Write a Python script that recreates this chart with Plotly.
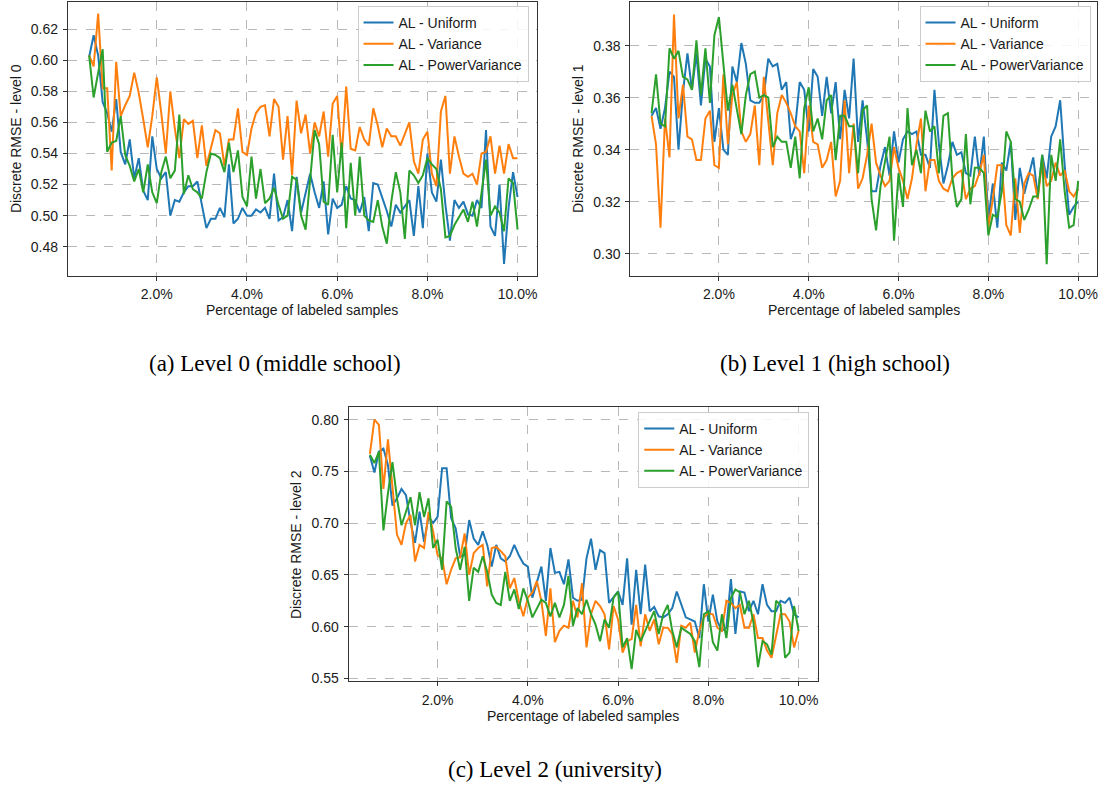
import plotly.graph_objects as go

W, H = 1104, 789

# Percentage of labeled samples (x categories)
pct = [round(0.5 + 0.1 * i, 1) for i in range(96)]

# ---- Level 0 (middle school) ----
a_uniform = [0.602, 0.616, 0.603, 0.573, 0.566, 0.554, 0.575, 0.541, 0.533, 0.549,
             0.524, 0.537, 0.516, 0.510, 0.551, 0.530, 0.524, 0.528, 0.500, 0.510,
             0.509, 0.515, 0.519, 0.519, 0.522, 0.507, 0.492, 0.498, 0.498, 0.505,
             0.499, 0.533, 0.495, 0.498, 0.505, 0.500, 0.500, 0.504, 0.502, 0.505,
             0.498, 0.527, 0.497, 0.499, 0.510, 0.490, 0.525, 0.502, 0.515, 0.527,
             0.515, 0.505, 0.522, 0.488, 0.511, 0.505, 0.507, 0.519, 0.511, 0.510,
             0.502, 0.512, 0.490, 0.521, 0.520, 0.512, 0.503, 0.493, 0.507, 0.502,
             0.506, 0.510, 0.487, 0.519, 0.492, 0.540, 0.515, 0.509, 0.536, 0.507,
             0.484, 0.510, 0.505, 0.509, 0.501, 0.500, 0.510, 0.505, 0.555, 0.493,
             0.487, 0.520, 0.469, 0.505, 0.528, 0.512]
a_variance = [0.603, 0.596, 0.630, 0.582, 0.582, 0.529, 0.599, 0.564, 0.571, 0.577,
              0.592, 0.579, 0.562, 0.544, 0.564, 0.589, 0.566, 0.540, 0.580, 0.556,
              0.537, 0.562, 0.559, 0.561, 0.537, 0.558, 0.532, 0.543, 0.555, 0.553,
              0.532, 0.549, 0.549, 0.569, 0.541, 0.539, 0.556, 0.566, 0.570, 0.571,
              0.551, 0.575, 0.570, 0.536, 0.564, 0.526, 0.574, 0.553, 0.565, 0.540,
              0.560, 0.551, 0.567, 0.538, 0.572, 0.577, 0.538, 0.583, 0.543, 0.542,
              0.557, 0.549, 0.545, 0.569, 0.558, 0.544, 0.556, 0.551, 0.551, 0.545,
              0.552, 0.560, 0.535, 0.527, 0.549, 0.554, 0.527, 0.519, 0.567, 0.577,
              0.527, 0.551, 0.538, 0.527, 0.525, 0.527, 0.520, 0.540, 0.541, 0.551,
              0.527, 0.545, 0.527, 0.546, 0.537, 0.537]
a_power = [0.603, 0.576, 0.592, 0.607, 0.541, 0.547, 0.548, 0.564, 0.539, 0.532,
           0.522, 0.530, 0.515, 0.533, 0.515, 0.508, 0.528, 0.538, 0.524, 0.529,
           0.565, 0.514, 0.526, 0.517, 0.515, 0.511, 0.528, 0.540, 0.539, 0.537,
           0.528, 0.547, 0.528, 0.542, 0.512, 0.506, 0.538, 0.511, 0.530, 0.508,
           0.511, 0.518, 0.507, 0.498, 0.500, 0.525, 0.523, 0.500, 0.491, 0.524,
           0.555, 0.546, 0.509, 0.507, 0.552, 0.515, 0.547, 0.492, 0.534, 0.500,
           0.538, 0.500, 0.497, 0.496, 0.510, 0.493, 0.482, 0.509, 0.528, 0.515,
           0.485, 0.529, 0.526, 0.521, 0.526, 0.537, 0.533, 0.530, 0.517, 0.486,
           0.487, 0.494, 0.499, 0.504, 0.496, 0.509, 0.493, 0.514, 0.536, 0.500,
           0.506, 0.502, 0.490, 0.524, 0.521, 0.491]

# ---- Level 1 (high school) ----
b_uniform = [0.353, 0.356, 0.348, 0.356, 0.370, 0.368, 0.340, 0.362, 0.377, 0.363,
             0.377, 0.357, 0.375, 0.372, 0.343, 0.356, 0.340, 0.338, 0.372, 0.366,
             0.381, 0.373, 0.359, 0.358, 0.358, 0.361, 0.375, 0.372, 0.373, 0.363,
             0.366, 0.344, 0.349, 0.366, 0.363, 0.347, 0.371, 0.368, 0.353, 0.368,
             0.354, 0.366, 0.344, 0.363, 0.352, 0.375, 0.343, 0.359, 0.344, 0.324,
             0.324, 0.334, 0.341, 0.330, 0.347, 0.335, 0.344, 0.347, 0.346, 0.347,
             0.338, 0.338, 0.333, 0.363, 0.342, 0.327, 0.334, 0.343, 0.338, 0.339,
             0.331, 0.330, 0.345, 0.330, 0.345, 0.313, 0.327, 0.310, 0.335, 0.332,
             0.343, 0.313, 0.333, 0.323, 0.330, 0.337, 0.322, 0.338, 0.329, 0.345,
             0.349, 0.359, 0.334, 0.315, 0.318, 0.320]
b_variance = [0.353, 0.342, 0.310, 0.352, 0.337, 0.392, 0.352, 0.365, 0.345, 0.344,
              0.336, 0.336, 0.352, 0.355, 0.334, 0.333, 0.369, 0.342, 0.361, 0.366,
              0.347, 0.343, 0.346, 0.357, 0.334, 0.368, 0.351, 0.334, 0.354, 0.361,
              0.358, 0.354, 0.349, 0.347, 0.331, 0.357, 0.343, 0.342, 0.333, 0.336,
              0.343, 0.322, 0.328, 0.359, 0.331, 0.350, 0.325, 0.329, 0.338, 0.350,
              0.335, 0.330, 0.326, 0.328, 0.341, 0.333, 0.328, 0.321, 0.329, 0.342,
              0.352, 0.324, 0.336, 0.336, 0.328, 0.325, 0.324, 0.329, 0.331, 0.332,
              0.321, 0.325, 0.326, 0.331, 0.338, 0.310, 0.321, 0.334, 0.334, 0.311,
              0.307, 0.329, 0.308, 0.327, 0.331, 0.330, 0.321, 0.336, 0.326, 0.328,
              0.335, 0.330, 0.332, 0.324, 0.322, 0.325]
b_power = [0.354, 0.369, 0.350, 0.349, 0.379, 0.375, 0.378, 0.368, 0.367, 0.363,
           0.382, 0.361, 0.379, 0.358, 0.384, 0.391, 0.373, 0.355, 0.365, 0.356,
           0.346, 0.361, 0.369, 0.370, 0.360, 0.361, 0.360, 0.341, 0.345, 0.343,
           0.343, 0.333, 0.345, 0.329, 0.356, 0.364, 0.347, 0.352, 0.344, 0.359,
           0.361, 0.336, 0.353, 0.353, 0.349, 0.349, 0.331, 0.355, 0.357, 0.321,
           0.309, 0.326, 0.336, 0.345, 0.305, 0.331, 0.318, 0.356, 0.334, 0.340,
           0.331, 0.355, 0.347, 0.349, 0.331, 0.353, 0.354, 0.329, 0.318, 0.321,
           0.346, 0.319, 0.333, 0.333, 0.331, 0.307, 0.315, 0.314, 0.324, 0.347,
           0.343, 0.321, 0.320, 0.313, 0.317, 0.322, 0.322, 0.338, 0.296, 0.338,
           0.328, 0.344, 0.324, 0.310, 0.311, 0.328]

# ---- Level 2 (university) ----
c_uniform = [0.765, 0.749, 0.769, 0.772, 0.756, 0.717, 0.724, 0.733, 0.727, 0.701,
             0.681, 0.711, 0.682, 0.706, 0.700, 0.706, 0.753, 0.753, 0.705, 0.695,
             0.668, 0.669, 0.703, 0.685, 0.679, 0.692, 0.679, 0.658, 0.679, 0.666,
             0.663, 0.668, 0.679, 0.669, 0.661, 0.658, 0.628, 0.644, 0.658, 0.625,
             0.676, 0.652, 0.653, 0.641, 0.665, 0.628, 0.625, 0.626, 0.666, 0.685,
             0.655, 0.674, 0.671, 0.623, 0.628, 0.634, 0.621, 0.666, 0.602, 0.655,
             0.612, 0.660, 0.615, 0.619, 0.610, 0.609, 0.612, 0.618, 0.634, 0.621,
             0.609, 0.607, 0.605, 0.589, 0.641, 0.605, 0.631, 0.605, 0.596, 0.599,
             0.646, 0.593, 0.634, 0.633, 0.615, 0.625, 0.612, 0.641, 0.621, 0.615,
             0.615, 0.625, 0.623, 0.628, 0.612, 0.609]
c_variance = [0.767, 0.800, 0.795, 0.733, 0.781, 0.733, 0.689, 0.679, 0.700, 0.708,
              0.663, 0.679, 0.676, 0.711, 0.692, 0.669, 0.666, 0.641, 0.655, 0.666,
              0.667, 0.690, 0.650, 0.671, 0.676, 0.679, 0.639, 0.676, 0.677, 0.673,
              0.668, 0.637, 0.647, 0.625, 0.610, 0.628, 0.633, 0.644, 0.625, 0.591,
              0.637, 0.585, 0.596, 0.601, 0.599, 0.625, 0.609, 0.642, 0.580, 0.612,
              0.625, 0.620, 0.612, 0.578, 0.620, 0.607, 0.575, 0.586, 0.588, 0.621,
              0.581, 0.612, 0.596, 0.607, 0.583, 0.599, 0.599, 0.593, 0.565, 0.601,
              0.599, 0.604, 0.575, 0.596, 0.609, 0.613, 0.612, 0.599, 0.596, 0.625,
              0.623, 0.618, 0.621, 0.599, 0.599, 0.612, 0.589, 0.589, 0.577, 0.570,
              0.591, 0.612, 0.612, 0.605, 0.580, 0.596]
c_power = [0.766, 0.758, 0.769, 0.693, 0.729, 0.759, 0.724, 0.698, 0.711, 0.725,
           0.698, 0.730, 0.706, 0.724, 0.676, 0.684, 0.655, 0.721, 0.716, 0.676,
           0.655, 0.677, 0.625, 0.657, 0.653, 0.668, 0.653, 0.631, 0.623, 0.621,
           0.653, 0.625, 0.636, 0.617, 0.637, 0.625, 0.609, 0.618, 0.626, 0.623,
           0.610, 0.623, 0.609, 0.621, 0.649, 0.601, 0.618, 0.612, 0.626, 0.612,
           0.602, 0.586, 0.607, 0.599, 0.628, 0.634, 0.580, 0.589, 0.559, 0.597,
           0.586, 0.596, 0.605, 0.615, 0.593, 0.612, 0.621, 0.596, 0.580, 0.599,
           0.596, 0.593, 0.586, 0.561, 0.612, 0.615, 0.585, 0.577, 0.612, 0.589,
           0.628, 0.636, 0.633, 0.612, 0.625, 0.604, 0.561, 0.586, 0.583, 0.573,
           0.625, 0.621, 0.570, 0.575, 0.620, 0.596]

series_names = ["AL - Uniform", "AL - Variance", "AL - PowerVariance"]
series_colors = ["#1f77b4", "#ff7f0e", "#2ca02c"]

x_ticks = [2, 4, 6, 8, 10]
x_ticktext = ["2.0%", "4.0%", "6.0%", "8.0%", "10.0%"]
a_yticks = [0.48, 0.50, 0.52, 0.54, 0.56, 0.58, 0.60, 0.62]
b_yticks = [0.30, 0.32, 0.34, 0.36, 0.38]
c_yticks = [0.55, 0.60, 0.65, 0.70, 0.75, 0.80]

SANS = "Liberation Sans, Arial, Helvetica, sans-serif"
SERIF = "Liberation Serif, Times New Roman, serif"
TXT = "#1a1a1a"

panels = [
    dict(data=[a_uniform, a_variance, a_power], xpx=(68, 537), ypx=(1.7, 277.3),
         yrange=(0.4615, 0.6376), yticks=a_yticks, ytitle="Discrete RMSE - level 0",
         ytx=15.5, xty=312, leg_right=529, leg_top=6,
         caption="(a) Level 0 (middle school)", capx=275, capy=366),
    dict(data=[b_uniform, b_variance, b_power], xpx=(631, 1098), ypx=(1.7, 277.3),
         yrange=(0.2916, 0.3969), yticks=b_yticks, ytitle="Discrete RMSE - level 1",
         ytx=578, xty=312, leg_right=1091.5, leg_top=6,
         caption="(b) Level 1 (high school)", capx=836, capy=366),
    dict(data=[c_uniform, c_variance, c_power], xpx=(349, 818.3), ypx=(410, 685.7),
         yrange=(0.5472, 0.8118), yticks=c_yticks, ytitle="Discrete RMSE - level 2",
         ytx=297, xty=721, leg_right=810, leg_top=414.5,
         caption="(c) Level 2 (university)", capx=556, capy=774),
]

fig = go.Figure()
annotations = []
layout_axes = {}

for i, p in enumerate(panels):
    n = "" if i == 0 else str(i + 1)
    leg = "legend" + n
    for vals, name, col in zip(p["data"], series_names, series_colors):
        fig.add_trace(go.Scatter(
            x=pct[:len(vals)], y=vals, mode="lines", name=name,
            line=dict(color=col, width=2),
            xaxis="x" + n, yaxis="y" + n, legend=leg,
        ))
    x0, x1 = p["xpx"]
    y0, y1 = p["ypx"]
    common = dict(
        showgrid=True, gridcolor="#b8b8b8", griddash="dash", gridwidth=1,
        showline=True, linecolor="#333333", linewidth=1.1, mirror=True,
        ticks="outside", ticklen=4, tickwidth=1, tickcolor="#333333",
        zeroline=False, tickfont=dict(family=SANS, size=14, color=TXT),
        ticklabelstandoff=2,
    )
    layout_axes["xaxis" + n] = dict(
        domain=[x0 / W, x1 / W], anchor="y" + n, range=[0.03, 10.42],
        tickvals=x_ticks, ticktext=x_ticktext, **common)
    layout_axes["yaxis" + n] = dict(
        domain=[1 - y1 / H, 1 - y0 / H], anchor="x" + n, range=list(p["yrange"]),
        tickvals=p["yticks"], ticktext=["%.2f" % v for v in p["yticks"]], **common)
    layout_axes[leg] = dict(
        x=p["leg_right"] / W, xanchor="right", y=1 - p["leg_top"] / H, yanchor="top",
        bgcolor="rgba(255,255,255,0.85)", bordercolor="#cccccc", borderwidth=1,
        font=dict(family=SANS, size=14, color=TXT), itemwidth=30, tracegroupgap=0)
    # axis titles
    annotations.append(dict(
        text=p["ytitle"], x=p["ytx"] / W, y=1 - (y0 + y1) / 2 / H, xref="paper", yref="paper",
        textangle=-90, showarrow=False, xanchor="center", yanchor="middle",
        font=dict(family=SANS, size=14, color=TXT)))
    annotations.append(dict(
        text="Percentage of labeled samples", x=(x0 + x1) / 2 / W, y=1 - p["xty"] / H,
        xref="paper", yref="paper", showarrow=False, xanchor="center", yanchor="middle",
        font=dict(family=SANS, size=14, color=TXT)))
    annotations.append(dict(
        text=p["caption"], x=p["capx"] / W, y=1 - p["capy"] / H,
        xref="paper", yref="paper", showarrow=False, xanchor="center", yanchor="middle",
        font=dict(family=SERIF, size=23, color="#000000")))

fig.update_layout(
    width=W, height=H, margin=dict(l=0, r=0, t=0, b=0),
    paper_bgcolor="white", plot_bgcolor="white",
    showlegend=True, annotations=annotations, **layout_axes,
)

fig.write_html("out.html", config={"displayModeBar": False},
               post_script="document.body.style.margin='0';document.body.style.overflow='hidden';")
